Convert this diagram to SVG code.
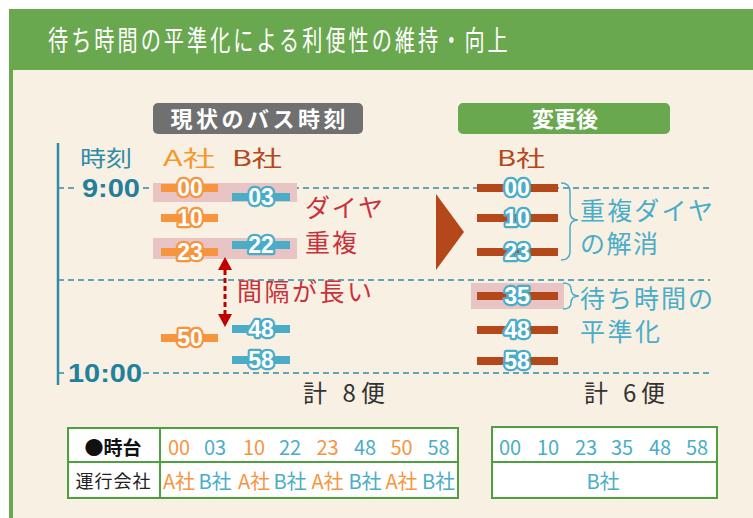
<svg xmlns="http://www.w3.org/2000/svg" width="753" height="518" viewBox="0 0 753 518">
<defs>
<style>
text{font-family:"Noto Sans CJK JP","Noto Sans",sans-serif}
.dash{stroke:#2F8CA6;stroke-width:1.5;stroke-dasharray:6 4;fill:none}
.barA{fill:#F7953F}
.barB{fill:#4AADC8}
.barR{fill:#B5481A}
.numA{font-family:"Liberation Sans",Arial,sans-serif;font-size:23px;font-weight:bold;fill:#fff;stroke:#F7953F;stroke-width:4.5;paint-order:stroke;stroke-linejoin:round;text-anchor:middle}
.numB{font-family:"Liberation Sans",Arial,sans-serif;font-size:23px;font-weight:bold;fill:#fff;stroke:#4AADC8;stroke-width:4.5;paint-order:stroke;stroke-linejoin:round;text-anchor:middle}
.red{fill:#C8323A;font-size:25px}
.blue{fill:#4AADC8;font-size:25px}
.tnumO{fill:#F7953F;font-size:20px;text-anchor:middle}
.tnumB{fill:#4AADC8;font-size:20px;text-anchor:middle}
.tbl{fill:#fff;stroke:#4CA040;stroke-width:2}
.time{font-family:"Liberation Sans",Arial,sans-serif;font-weight:bold;fill:#22809C}
</style>
</defs>
<rect x="0" y="0" width="753" height="518" fill="#fff"/>
<rect x="13" y="70" width="740" height="448" fill="#F9F0E4"/>
<g id="header">
<rect x="9" y="9" width="744" height="61" fill="#6AA84F"/>
<rect x="9" y="70" width="4" height="448" fill="#6AA84F"/>
<text x="66.7" y="51" font-size="28" fill="#fff" letter-spacing="4.2" transform="scale(0.72,1)">待ち時間の平準化による利便性の維持・向上</text>
</g>
<g id="grid">
<line x1="58" y1="143" x2="58" y2="385" stroke="#2F8CA6" stroke-width="2.5"/>
<line class="dash" x1="58" y1="188" x2="78" y2="188"/>
<line class="dash" x1="143" y1="188" x2="710" y2="188"/>
<line class="dash" x1="58" y1="280" x2="710" y2="280"/>
<line class="dash" x1="58" y1="373" x2="64" y2="373"/>
<line class="dash" x1="143" y1="373" x2="710" y2="373"/>
<text x="80" y="166" font-size="22" fill="#2F8CA6" textLength="52" lengthAdjust="spacingAndGlyphs">時刻</text>
<text class="time" x="82" y="197" font-size="25" textLength="58" lengthAdjust="spacingAndGlyphs">9:00</text>
<text class="time" x="68" y="382" font-size="25" textLength="74" lengthAdjust="spacingAndGlyphs">10:00</text>
</g>
<g id="label-current">
<rect x="153" y="103" width="210" height="31" rx="5" fill="#707070"/>
<text x="258" y="127" font-size="22" font-weight="bold" fill="#fff" text-anchor="middle" textLength="175">現状のバス時刻</text>
</g>
<g id="label-after">
<rect x="458" y="103" width="212" height="31" rx="5" fill="#6AA84F"/>
<text x="565" y="127" font-size="22" font-weight="bold" fill="#fff" text-anchor="middle" textLength="66">変更後</text>
</g>
<g id="highlights">
<rect x="153" y="183" width="144" height="19" fill="#E8C4C4"/>
<rect x="153" y="238" width="144" height="21" fill="#E8C4C4"/>
<rect x="471" y="283" width="93" height="26" fill="#E8C4C4"/>
</g>
<g id="company-A">
<text x="163" y="166" font-size="22" fill="#F39A2E" textLength="52" lengthAdjust="spacingAndGlyphs">A社</text>
<rect class="barA" x="161" y="184" width="57" height="8"/><text class="numA" x="190" y="196">00</text>
<rect class="barA" x="161" y="214" width="57" height="8"/><text class="numA" x="190" y="226">10</text>
<rect class="barA" x="161" y="248" width="57" height="8"/><text class="numA" x="190" y="260">23</text>
<rect class="barA" x="161" y="334" width="57" height="8"/><text class="numA" x="190" y="346">50</text>
</g>
<g id="company-B">
<text x="232" y="166" font-size="22" fill="#B5481A" textLength="50" lengthAdjust="spacingAndGlyphs">B社</text>
<rect class="barB" x="232" y="193" width="58" height="8"/><text class="numB" x="261" y="205">03</text>
<rect class="barB" x="232" y="241" width="58" height="8"/><text class="numB" x="261" y="253">22</text>
<rect class="barB" x="232" y="325" width="58" height="8"/><text class="numB" x="261" y="337">48</text>
<rect class="barB" x="232" y="356" width="58" height="8"/><text class="numB" x="261" y="368">58</text>
</g>
<g id="note-overlap">
<text class="red" x="305" y="217" textLength="78">ダイヤ</text>
<text class="red" x="305" y="252" textLength="52">重複</text>
</g>
<g id="note-gap">
<text class="red" x="237" y="301" font-size="26" textLength="135">間隔が長い</text>
</g>
<g id="connectors">
<line x1="225" y1="270" x2="225" y2="314" stroke="#C00000" stroke-width="3" stroke-dasharray="5 3"/>
<polygon points="218,270 232,270 225,257" fill="#C00000"/>
<polygon points="218,314 232,314 225,327" fill="#C00000"/>
<polygon points="436,194 464,232 436,270" fill="#B5481A"/>
<path d="M561,183 Q570,183 570,192 L570,212 Q570,220 578,220 Q570,220 570,228 L570,251 Q570,260 561,260" fill="none" stroke="#4AADC8" stroke-width="1.5"/>
<path d="M563,283 Q571,283 571,289 Q571,296 579,296 Q571,296 571,303 Q571,309 563,309" fill="none" stroke="#4AADC8" stroke-width="1.5"/>
</g>
<g id="total-current">
<text x="303" y="402" font-size="24" fill="#333" textLength="82">計 8便</text>
</g>
<g id="after-B">
<text x="497" y="166" font-size="22" fill="#B5481A" textLength="48" lengthAdjust="spacingAndGlyphs">B社</text>
<rect class="barR" x="477" y="184" width="81" height="8"/><text class="numB" x="517" y="196">00</text>
<rect class="barR" x="477" y="214" width="81" height="8"/><text class="numB" x="517" y="226">10</text>
<rect class="barR" x="477" y="248" width="81" height="8"/><text class="numB" x="517" y="260">23</text>
<rect class="barR" x="477" y="292" width="81" height="8"/><text class="numB" x="517" y="304">35</text>
<rect class="barR" x="477" y="326" width="81" height="8"/><text class="numB" x="517" y="338">48</text>
<rect class="barR" x="477" y="357" width="81" height="8"/><text class="numB" x="517" y="369">58</text>
</g>
<g id="note-resolve">
<text class="blue" x="580" y="220" textLength="133">重複ダイヤ</text>
<text class="blue" x="580" y="253" textLength="78">の解消</text>
</g>
<g id="note-level">
<text class="blue" x="580" y="308" textLength="133">待ち時間の</text>
<text class="blue" x="580" y="341" textLength="80">平準化</text>
</g>
<g id="total-after">
<text x="584" y="402" font-size="24" fill="#333" textLength="81">計 6便</text>
</g>
<g id="table-current">
<rect class="tbl" x="68" y="428" width="390" height="70"/>
<line x1="68" y1="462" x2="458" y2="462" stroke="#4CA040" stroke-width="2"/>
<line x1="160" y1="428" x2="160" y2="498" stroke="#4CA040" stroke-width="2"/>
<text x="113" y="455" font-size="19" font-weight="bold" fill="#111" text-anchor="middle">●時台</text>
<text x="113" y="488" font-size="18" fill="#222" text-anchor="middle" textLength="75">運行会社</text>
<text class="tnumO" x="179" y="455">00</text>
<text class="tnumB" x="215" y="455">03</text>
<text class="tnumO" x="254" y="455">10</text>
<text class="tnumB" x="290" y="455">22</text>
<text class="tnumO" x="327.5" y="455">23</text>
<text class="tnumB" x="365" y="455">48</text>
<text class="tnumO" x="401.5" y="455">50</text>
<text class="tnumB" x="438.5" y="455">58</text>
<text class="tnumO" x="179" y="489">A社</text>
<text class="tnumB" x="215" y="489">B社</text>
<text class="tnumO" x="254" y="489">A社</text>
<text class="tnumB" x="290" y="489">B社</text>
<text class="tnumO" x="327.5" y="489">A社</text>
<text class="tnumB" x="365" y="489">B社</text>
<text class="tnumO" x="401.5" y="489">A社</text>
<text class="tnumB" x="438.5" y="489">B社</text>
</g>
<g id="table-after">
<rect class="tbl" x="492" y="427" width="225" height="71"/>
<line x1="492" y1="462" x2="717" y2="462" stroke="#4CA040" stroke-width="2"/>
<text class="tnumB" x="510" y="455">00</text>
<text class="tnumB" x="548" y="455">10</text>
<text class="tnumB" x="586" y="455">23</text>
<text class="tnumB" x="622" y="455">35</text>
<text class="tnumB" x="660" y="455">48</text>
<text class="tnumB" x="697" y="455">58</text>
<text class="tnumB" x="603" y="489">B社</text>
</g>
</svg>
